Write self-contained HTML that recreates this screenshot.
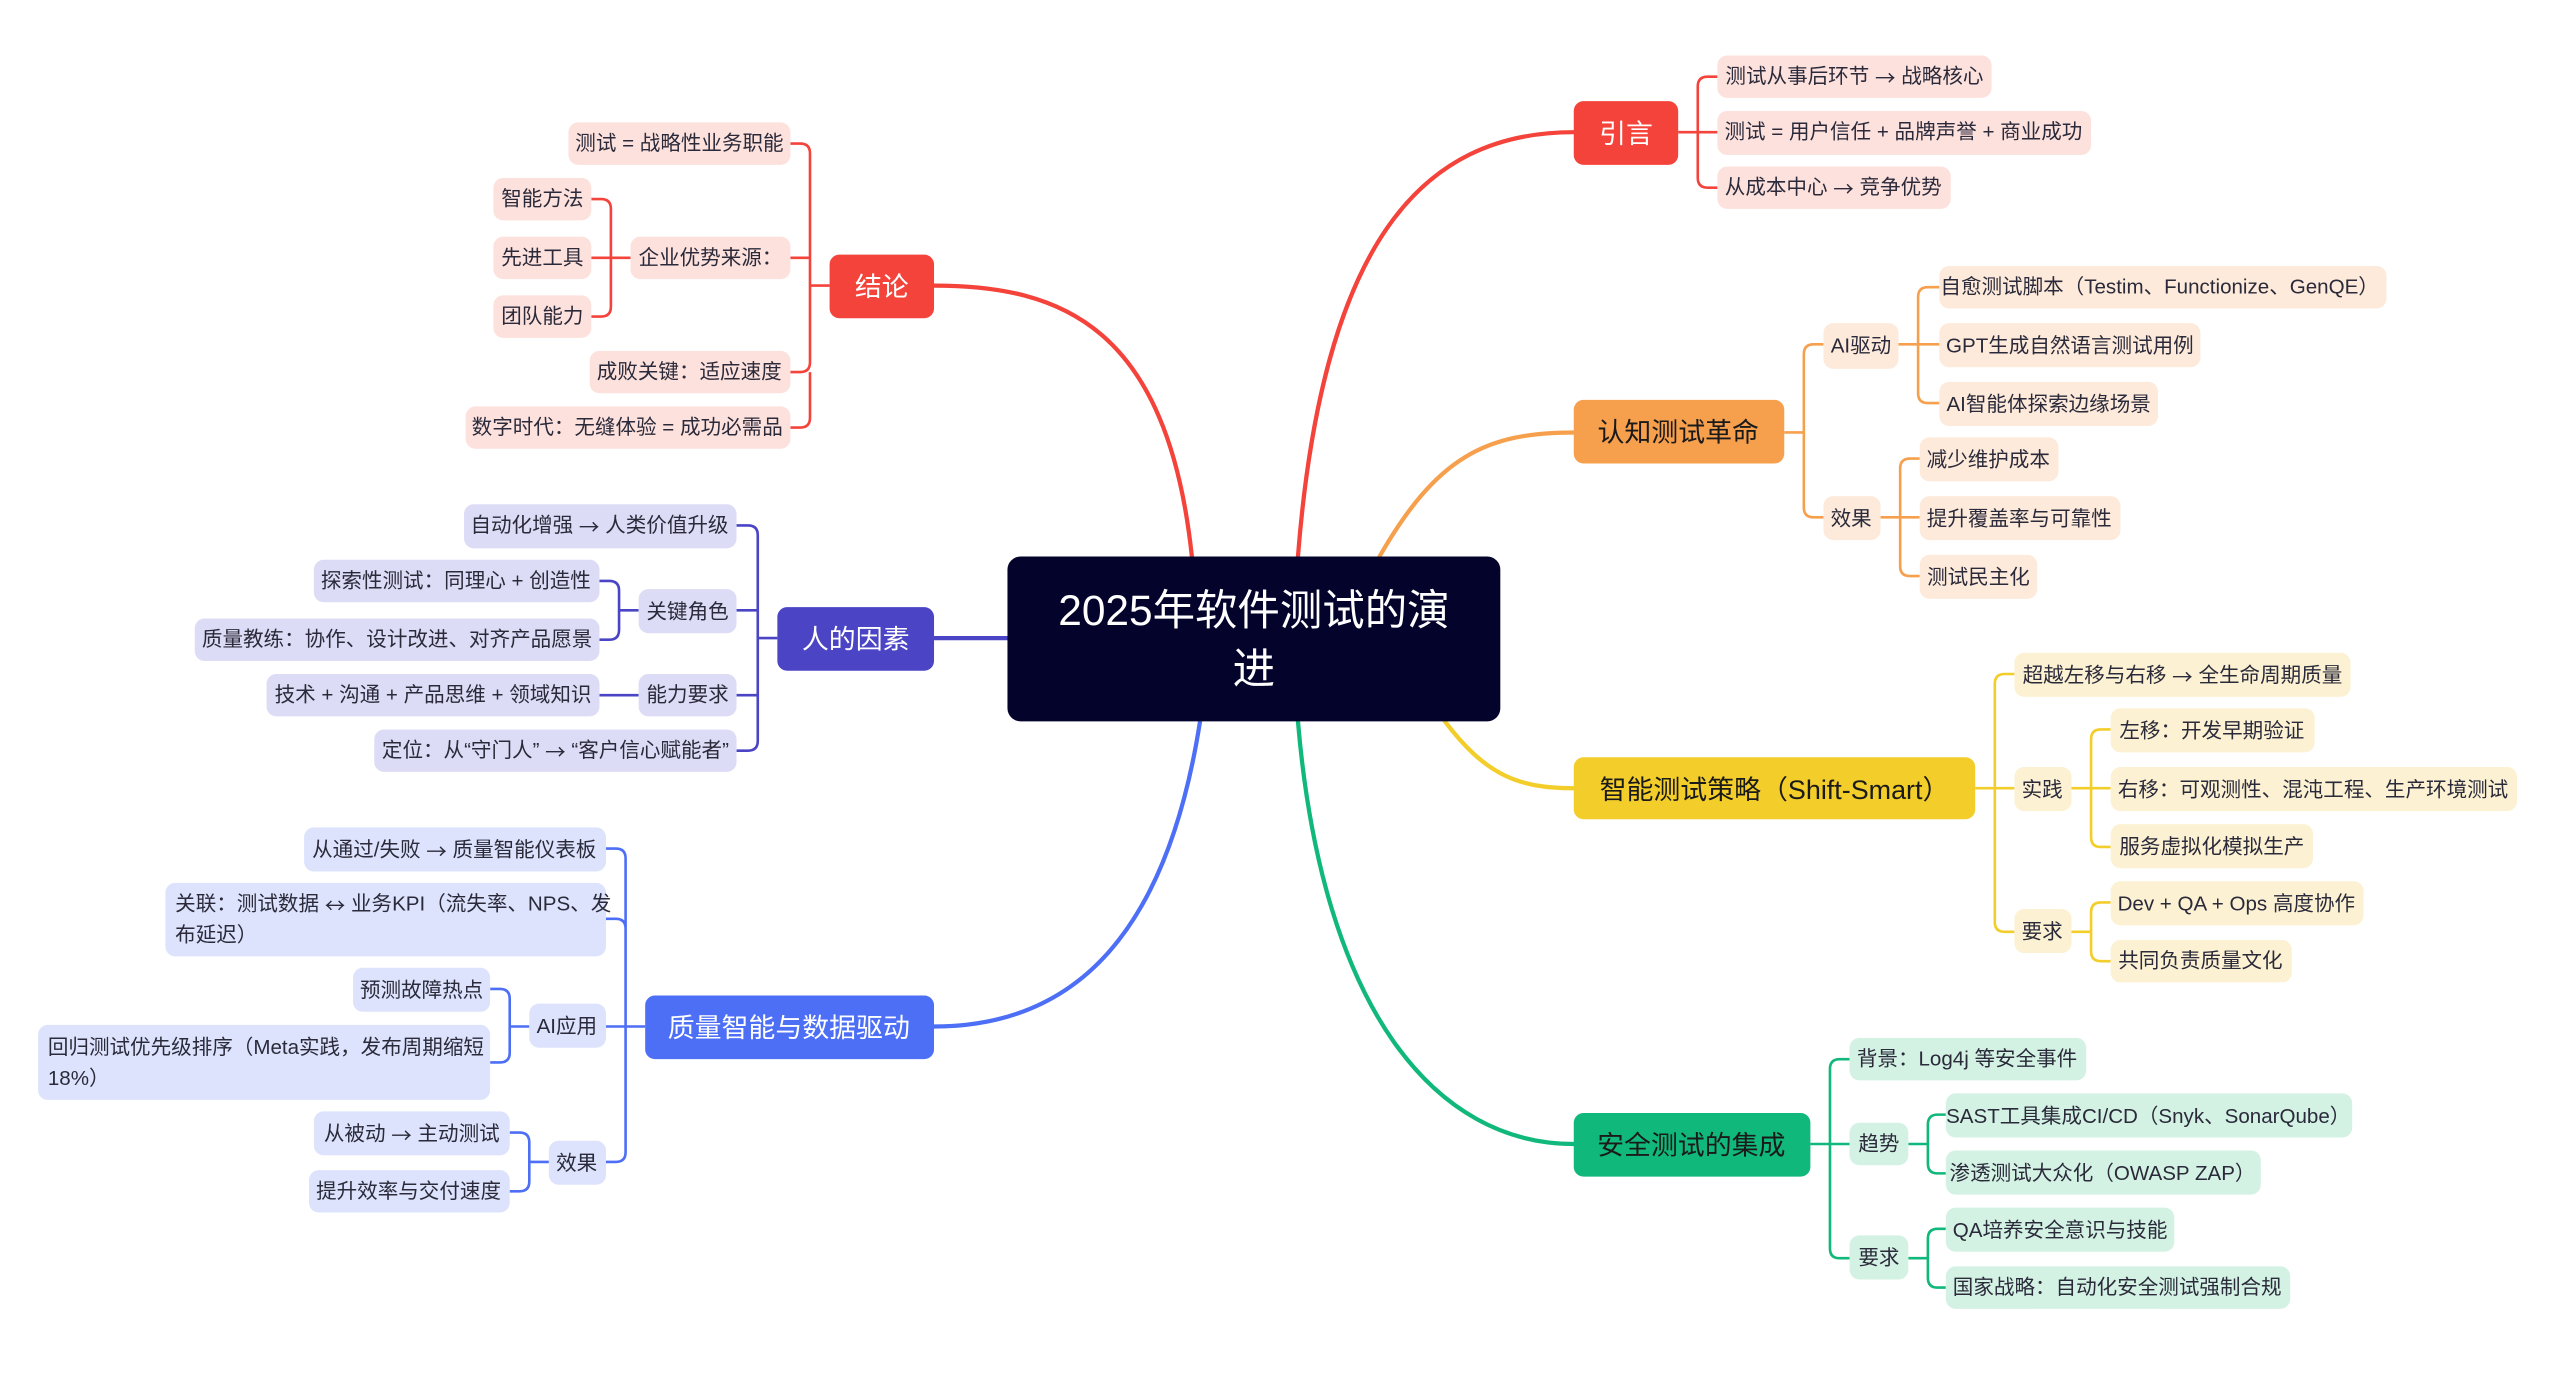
<!DOCTYPE html>
<html><head><meta charset="utf-8"><style>
html,body{margin:0;padding:0;background:#fff;width:2560px;height:1379px;overflow:hidden}
svg{display:block}
text{font-family:"Liberation Sans","Noto Sans CJK SC",sans-serif;dominant-baseline:central}
.l{font-size:12.6px;fill:#2a2a3a;text-anchor:middle}
.m{font-size:16.5px;text-anchor:middle}
.ll{font-size:12.6px;fill:#2a2a3a;text-anchor:start}
.a{font-family:"Noto Sans CJK SC",sans-serif}
</style></head><body>
<svg width="2560" height="1379" viewBox="0 0 1568 845" xmlns="http://www.w3.org/2000/svg">
<g fill="none" stroke-width="2.6" stroke-linecap="round">
<path d="M795,341 C810,150 870,81 964,81" stroke="#f4433b"/>
<path d="M730,341 C715,200 650,175 572,175" stroke="#f4433b"/>
<path d="M845,341 C880,280 910,265 964,265" stroke="#f6a04d"/>
<path d="M885,442 C910,475 930,483 964,483" stroke="#f3cd2a"/>
<path d="M795,442 C810,620 880,701 964,701" stroke="#11b87b"/>
<path d="M617,391 H572" stroke="#4b45c6"/>
<path d="M735,442 C715,570 660,629 572,629" stroke="#4d6ff6"/>
</g>
<g fill="none" stroke-width="1.6">
<path stroke="#f4433b" d="M1028,81H1052 M1040,81V53Q1040,47 1046,47H1052 M1040,81V109Q1040,115 1046,115H1052"/>
<path stroke="#f6a04d" d="M1093,265H1105 M1105,265V217Q1105,211 1111,211H1117 M1105,265V311Q1105,317 1111,317H1117"/>
<path stroke="#f6a04d" d="M1163,211H1188 M1175,211V182Q1175,176 1181,176H1188 M1175,211V241Q1175,247 1181,247H1188"/>
<path stroke="#f6a04d" d="M1152,317H1176 M1164,317V287Q1164,281 1170,281H1176 M1164,317V347Q1164,353 1170,353H1176"/>
<path stroke="#f3cd2a" d="M1210,483H1234 M1222,483V419Q1222,413 1228,413H1234 M1222,483V565Q1222,571 1228,571H1234"/>
<path stroke="#f3cd2a" d="M1269,483H1293 M1281,483V453Q1281,447 1287,447H1293 M1281,483V513Q1281,519 1287,519H1293"/>
<path stroke="#f3cd2a" d="M1269,571H1281 M1281,571V559Q1281,553 1287,553H1293 M1281,571V583Q1281,589 1287,589H1293"/>
<path stroke="#11b87b" d="M1109,701H1133 M1121,701V655Q1121,649 1127,649H1133 M1121,701V765Q1121,771 1127,771H1133"/>
<path stroke="#11b87b" d="M1169,701H1181 M1181,701V689Q1181,683 1187,683H1192 M1181,701V713Q1181,719 1187,719H1192"/>
<path stroke="#11b87b" d="M1169,771H1181 M1181,771V759Q1181,753 1187,753H1192 M1181,771V783Q1181,789 1187,789H1192"/>
<path stroke="#f4433b" d="M508,175H496 M496,175V94Q496,88 490,88H484 M496,175V158H484 M496,175V222Q496,228 490,228H484 M496,228V256Q496,262 490,262H484"/>
<path stroke="#f4433b" d="M386,158H362 M374,158V128Q374,122 368,122H362 M374,158V188Q374,194 368,194H362"/>
<path stroke="#4b45c6" d="M476,391H464 M464,391V328Q464,322 458,322H451 M464,391V374H451 M464,391V426H451 M464,426V454Q464,460 458,460H451"/>
<path stroke="#4b45c6" d="M391,374H379 M379,374V362Q379,356 373,356H367 M379,374V386Q379,392 373,392H367"/>
<path stroke="#4b45c6" d="M391,426H367"/>
<path stroke="#4d6ff6" d="M395,629H383 M383,629V526Q383,520 377,520H371 M383,629V569Q383,563 377,563H371 M383,629H371 M383,629V706Q383,712 377,712H371"/>
<path stroke="#4d6ff6" d="M324,629H312 M312,629V612Q312,606 306,606H300 M312,629V645Q312,651 306,651H300"/>
<path stroke="#4d6ff6" d="M336,712H324 M324,712V700Q324,694 318,694H312 M324,712V724Q324,730 318,730H312"/>
</g>

<rect x="617" y="341" width="302" height="101" rx="8" fill="#03032b"/>
<text x="768" y="374" font-size="26" fill="#fff" text-anchor="middle">2025年软件测试的演</text>
<text x="768" y="410" font-size="26" fill="#fff" text-anchor="middle">进</text>

<rect x="964" y="62" width="64" height="39" rx="6" fill="#f4433b"/><text class="m" x="996" y="82" fill="#fff">引言</text>
<g fill="#fde1dd">
<rect x="1052" y="34" width="168" height="26" rx="6"/><rect x="1052" y="68" width="229" height="27" rx="6"/><rect x="1052" y="102" width="143" height="26" rx="6"/>
</g>
<text class="l" x="1136" y="47">测试从事后环节 <tspan class="a">→</tspan> 战略核心</text>
<text class="l" x="1166" y="81">测试 = 用户信任 + 品牌声誉 + 商业成功</text>
<text class="l" x="1123" y="115">从成本中心 <tspan class="a">→</tspan> 竞争优势</text>

<rect x="964" y="245" width="129" height="39" rx="6" fill="#f6a04d"/><text class="m" x="1028" y="265" fill="#1a1a1a">认知测试革命</text>
<g fill="#fdeadb">
<rect x="1117" y="198" width="46" height="28" rx="6"/><rect x="1117" y="304" width="35" height="27" rx="6"/>
<rect x="1188" y="163" width="274" height="26" rx="6"/><rect x="1188" y="198" width="160" height="27" rx="6"/><rect x="1188" y="234" width="134" height="27" rx="6"/>
<rect x="1176" y="268" width="85" height="27" rx="6"/><rect x="1176" y="304" width="123" height="27" rx="6"/><rect x="1176" y="340" width="72" height="27" rx="6"/>
</g>
<text class="l" x="1140" y="212">AI驱动</text><text class="l" x="1134" y="318">效果</text>
<text class="l" x="1323" y="176">自愈测试脚本（Testim、Functionize、GenQE）</text>
<text class="l" x="1268" y="212">GPT生成自然语言测试用例</text>
<text class="l" x="1255" y="248">AI智能体探索边缘场景</text>
<text class="l" x="1218" y="282">减少维护成本</text>
<text class="l" x="1237" y="318">提升覆盖率与可靠性</text>
<text class="l" x="1212" y="354">测试民主化</text>

<rect x="964" y="464" width="246" height="38" rx="6" fill="#f3cd2a"/><text class="m" x="1087" y="484" fill="#1a1a1a">智能测试策略（Shift-Smart）</text>
<g fill="#fcf2d3">
<rect x="1234" y="400" width="206" height="27" rx="6"/><rect x="1234" y="470" width="35" height="27" rx="6"/><rect x="1234" y="557" width="35" height="27" rx="6"/>
<rect x="1293" y="434" width="125" height="27" rx="6"/><rect x="1293" y="470" width="249" height="27" rx="6"/><rect x="1293" y="505" width="124" height="27" rx="6"/>
<rect x="1293" y="540" width="155" height="27" rx="6"/><rect x="1293" y="576" width="111" height="26" rx="6"/>
</g>
<text class="l" x="1337" y="414">超越左移与右移 <tspan class="a">→</tspan> 全生命周期质量</text>
<text class="l" x="1251" y="484">实践</text><text class="l" x="1251" y="571">要求</text>
<text class="l" x="1355" y="448">左移：开发早期验证</text>
<text class="l" x="1417" y="484">右移：可观测性、混沌工程、生产环境测试</text>
<text class="l" x="1355" y="519">服务虚拟化模拟生产</text>
<text class="l" x="1370" y="554">Dev + QA + Ops 高度协作</text>
<text class="l" x="1348" y="589">共同负责质量文化</text>

<rect x="964" y="682" width="145" height="39" rx="6" fill="#11b87b"/><text class="m" x="1036" y="702" fill="#1a1a1a">安全测试的集成</text>
<g fill="#d4f2e4">
<rect x="1133" y="636" width="145" height="26" rx="6"/><rect x="1133" y="688" width="36" height="26" rx="6"/><rect x="1133" y="757" width="36" height="27" rx="6"/>
<rect x="1192" y="670" width="249" height="27" rx="6"/><rect x="1192" y="705" width="193" height="27" rx="6"/>
<rect x="1192" y="740" width="140" height="27" rx="6"/><rect x="1192" y="776" width="211" height="26" rx="6"/>
</g>
<text class="l" x="1205" y="649">背景：Log4j 等安全事件</text>
<text class="l" x="1151" y="701">趋势</text><text class="l" x="1151" y="771">要求</text>
<text class="l" x="1316" y="684">SAST工具集成CI/CD（Snyk、SonarQube）</text>
<text class="l" x="1288" y="719">渗透测试大众化（OWASP ZAP）</text>
<text class="l" x="1262" y="754">QA培养安全意识与技能</text>
<text class="l" x="1297" y="789">国家战略：自动化安全测试强制合规</text>

<rect x="508" y="156" width="64" height="39" rx="6" fill="#f4433b"/><text class="m" x="540" y="176" fill="#fff">结论</text>
<g fill="#fde1dd">
<rect x="348" y="75" width="136" height="26" rx="6"/><rect x="386" y="145" width="98" height="26" rx="6"/><rect x="361" y="215" width="123" height="26" rx="6"/><rect x="285" y="249" width="199" height="26" rx="6"/>
<rect x="302" y="109" width="60" height="26" rx="6"/><rect x="302" y="145" width="60" height="26" rx="6"/><rect x="302" y="181" width="60" height="26" rx="6"/>
</g>
<text class="l" x="416" y="88">测试 = 战略性业务职能</text>
<text class="l" x="435" y="158">企业优势来源：</text>
<text class="l" x="422" y="228">成败关键：适应速度</text>
<text class="l" x="384" y="262">数字时代：无缝体验 = 成功必需品</text>
<text class="l" x="332" y="122">智能方法</text><text class="l" x="332" y="158">先进工具</text><text class="l" x="332" y="194">团队能力</text>

<rect x="476" y="372" width="96" height="39" rx="6" fill="#4b45c6"/><text class="m" x="524" y="392" fill="#fff">人的因素</text>
<g fill="#dddcf6">
<rect x="284" y="309" width="167" height="27" rx="6"/><rect x="391" y="361" width="60" height="27" rx="6"/><rect x="391" y="413" width="60" height="26" rx="6"/><rect x="229" y="447" width="222" height="26" rx="6"/>
<rect x="192" y="343" width="175" height="26" rx="6"/><rect x="119" y="379" width="248" height="26" rx="6"/><rect x="163" y="413" width="204" height="26" rx="6"/>
</g>
<text class="l" x="367" y="322">自动化增强 <tspan class="a">→</tspan> 人类价值升级</text>
<text class="l" x="421" y="375">关键角色</text><text class="l" x="421" y="426">能力要求</text>
<text class="l" x="340" y="460">定位：从“守门人” <tspan class="a">→</tspan> “客户信心赋能者”</text>
<text class="l" x="279" y="356">探索性测试：同理心 + 创造性</text>
<text class="l" x="243" y="392">质量教练：协作、设计改进、对齐产品愿景</text>
<text class="l" x="265" y="426">技术 + 沟通 + 产品思维 + 领域知识</text>

<rect x="395" y="610" width="177" height="39" rx="6" fill="#4d6ff6"/><text class="m" x="483" y="630" fill="#fff">质量智能与数据驱动</text>
<g fill="#dde3fc">
<rect x="186" y="507" width="185" height="27" rx="6"/><rect x="101" y="541" width="270" height="45" rx="6"/><rect x="324" y="615" width="47" height="27" rx="6"/><rect x="336" y="699" width="35" height="27" rx="6"/>
<rect x="216" y="593" width="84" height="27" rx="6"/><rect x="23" y="628" width="277" height="46" rx="6"/>
<rect x="192" y="681" width="120" height="27" rx="6"/><rect x="189" y="717" width="123" height="26" rx="6"/>
</g>
<text class="l" x="278" y="521">从通过/失败 <tspan class="a">→</tspan> 质量智能仪表板</text>
<text class="ll" x="107" y="554">关联：测试数据 <tspan class="a">↔</tspan> 业务KPI（流失率、NPS、发</text>
<text class="ll" x="107" y="573">布延迟）</text>
<text class="l" x="347" y="629">AI应用</text><text class="l" x="353" y="713">效果</text>
<text class="l" x="258" y="607">预测故障热点</text>
<text class="ll" x="29" y="642">回归测试优先级排序（Meta实践，发布周期缩短</text>
<text class="ll" x="29" y="661">18%）</text>
<text class="l" x="252" y="695">从被动 <tspan class="a">→</tspan> 主动测试</text>
<text class="l" x="250" y="730">提升效率与交付速度</text>
</svg>
</body></html>
